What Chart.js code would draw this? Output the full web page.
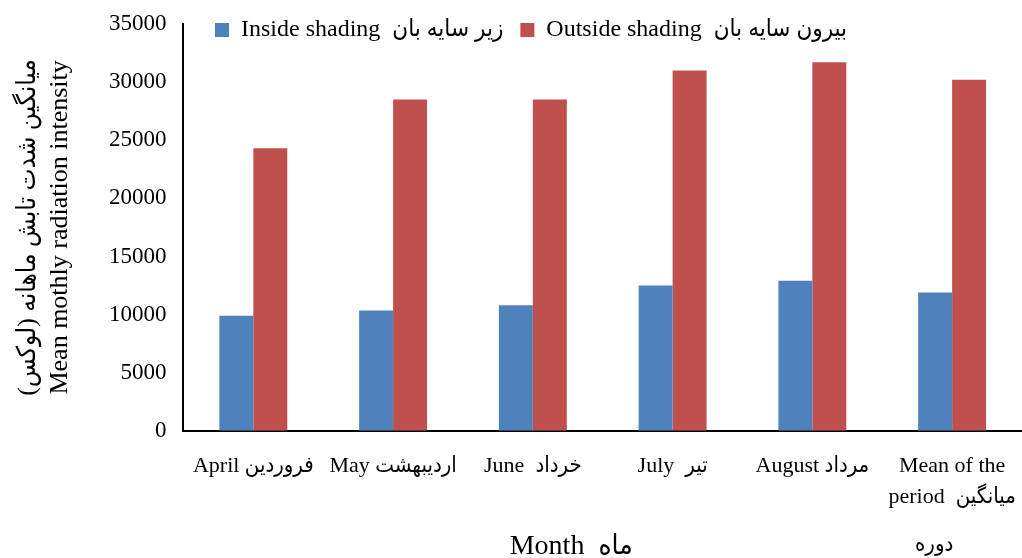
<!DOCTYPE html>
<html>
<head>
<meta charset="utf-8">
<script src="https://cdn.jsdelivr.net/npm/chart.js@4.4.1/dist/chart.umd.min.js"></script>
<style>
  html, body { margin: 0; padding: 0; background: #ffffff; }
  #wrap { width: 1022px; height: 558px; position: relative; }
</style>
</head>
<body>
<div id="wrap"><canvas id="chart"></canvas></div>
<script>
// ---- data ----
const categories = [
  "April فروردین",
  "May اردیبهشت",
  "June  خرداد",
  "July  تیر",
  "August مرداد",
  ["Mean of the", "period  میانگین"]
];
const insideShading  = [9900, 10350, 10800, 12500, 12900, 11900];
const outsideShading = [24300, 28500, 28500, 31000, 31700, 30200];
const yTickValues = [0, 5000, 10000, 15000, 20000, 25000, 30000, 35000];
const seriesNames = ["Inside shading  زیر سایه بان", "Outside shading  بیرون سایه بان"];
const xAxisTitle = "Month  ماه";
const yAxisTitle = ["میانگین شدت تابش ماهانه (لوکس)", "Mean mothly radiation intensity"];
const lastCategoryExtra = "دوره";

// ---- styling ----
const FONT = "'Liberation Serif', 'DejaVu Sans Condensed', 'Times New Roman', serif";
Chart.defaults.font.family = FONT;
Chart.defaults.color = "#000000";

const legendPlacement = {
  id: "legendPlacement",
  afterLayout(chart) {
    const lg = chart.legend;
    if (!lg) return;
    const pad = lg.options.labels.padding;
    const targetLeft = 215 - pad;
    const w = lg.right - lg.left;
    lg.left = targetLeft;
    lg.right = targetLeft + w;
    lg.top = 1;
    lg.bottom = 61;
    lg.height = 60;
  }
};

const extraLabel = {
  id: "extraLabel",
  afterDraw(chart) {
    const xs = chart.scales.x;
    const ctx = chart.ctx;
    ctx.save();
    ctx.font = "22px " + FONT;
    ctx.fillStyle = "#000000";
    ctx.textAlign = "center";
    ctx.textBaseline = "middle";
    ctx.fillText(lastCategoryExtra, xs.getPixelForValue(categories.length - 1) - 18, 545);
    ctx.restore();
  }
};

new Chart(document.getElementById("chart"), {
  type: "bar",
  data: {
    labels: categories,
    datasets: [
      { label: seriesNames[0], data: insideShading, backgroundColor: "#4F81BD", borderWidth: 0 },
      { label: seriesNames[1], data: outsideShading, backgroundColor: "#C0504D", borderWidth: 0 }
    ]
  },
  options: {
    responsive: true,
    maintainAspectRatio: false,
    animation: false,
    layout: { padding: { top: 0, left: 0, right: 0, bottom: 0 } },
    datasets: { bar: { categoryPercentage: 0.486, barPercentage: 1.0 } },
    plugins: {
      tooltip: { enabled: false },
      legend: {
        display: true,
        position: "top",
        align: "start",
        maxHeight: 24,
        labels: {
          boxWidth: 14,
          boxHeight: 14,
          padding: 17,
          color: "#000000",
          font: { size: 24, family: FONT }
        }
      }
    },
    scales: {
      x: {
        grid: { display: false, drawTicks: false },
        border: { display: true, color: "#000000", width: 2 },
        afterFit(scale) { scale.paddingLeft = 0; scale.paddingRight = 0; },
        ticks: {
          padding: 20,
          maxRotation: 0,
          autoSkip: false,
          color: "#000000",
          font: { size: 22, lineHeight: 1.4, family: FONT }
        },
        title: {
          display: true,
          text: xAxisTitle + " ".repeat(9),
          color: "#000000",
          font: { size: 28, family: FONT },
          padding: { top: -3, bottom: -5 }
        }
      },
      y: {
        min: 0,
        max: 35000,
        afterBuildTicks(scale) { scale.ticks = yTickValues.map(v => ({ value: v })); },
        afterFit(scale) { scale.paddingTop = 0; scale.paddingBottom = 0; },
        grid: { display: false, drawTicks: false },
        border: { display: true, color: "#000000", width: 2 },
        ticks: {
          padding: 17,
          color: "#000000",
          font: { size: 23, family: FONT },
          callback: (v) => String(v)
        },
        title: {
          display: true,
          text: yAxisTitle,
          color: "#000000",
          font: { size: 26, lineHeight: 1.23, family: FONT },
          padding: { top: 12, bottom: 16 }
        }
      }
    }
  },
  plugins: [legendPlacement, extraLabel]
});
</script>
</body>
</html>
